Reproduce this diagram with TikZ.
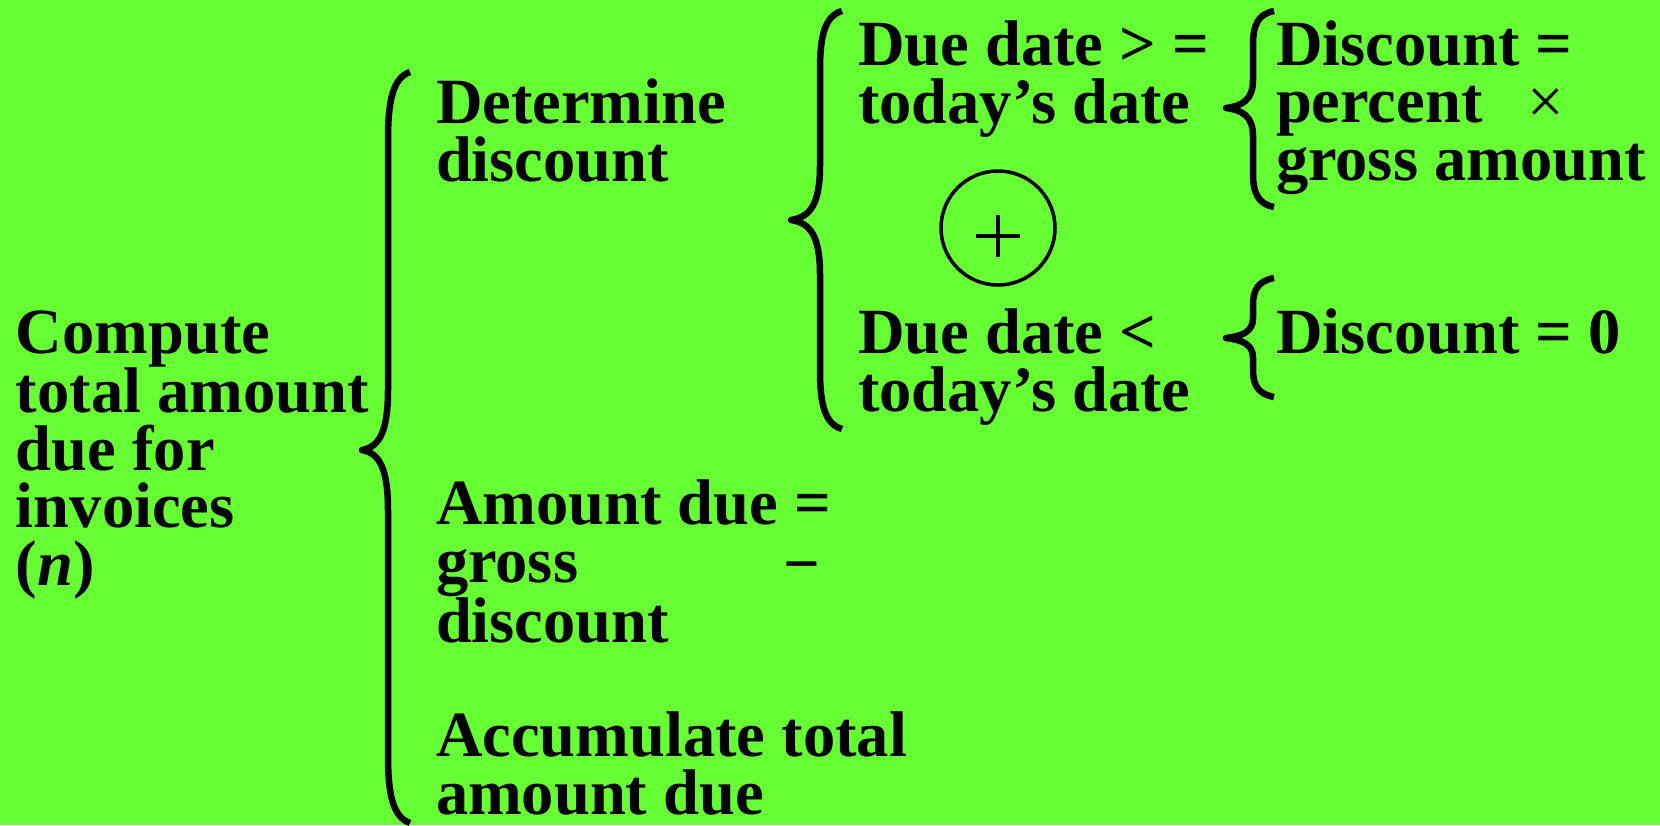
\documentclass[tikz,border=0pt]{standalone}
\usepackage{fontspec}
\setmainfont{Liberation Serif}
\definecolor{bg}{RGB}{102,255,51}
\begin{document}
\begin{tikzpicture}[x=1pt,y=-1pt,
  txt/.style={anchor=base west, inner sep=0pt, outer sep=0pt, align=left,
    font=\bfseries\fontsize{64.5}{57.5}\selectfont},
  bracel/.style={line width=6.5pt, line join=round},
  ring/.style={circle, draw, line width=3.5pt, minimum size=114pt, inner sep=0pt}]
\fill[bg] (0,0) rectangle (1660,825);
\useasboundingbox (0,0) rectangle (1660,825);

% texts (anchor = baseline of the last line)
\node[txt] (compute) at (16,585) {Compute\\total amount\\due for\\invoices\\(\textit{n})};
\node[txt] (determine) at (436,181) {Determine\\discount};
\node[txt] (duege) at (858,123) {Due date > =\\today’s date};
\node[txt] (duelt) at (858,411) {Due date <\\today’s date};
\node[txt] (discpct) at (1276,180) {Discount =\\percent\\gross amount};
\node[txt, font=\mdseries\fontsize{65}{57.5}\selectfont] (times) at (1527,123) {×};
\node[txt] (disc0) at (1276,353) {Discount = 0};
\node[txt] (amount) at (436,642) {Amount due =\\gross\\discount};
\node[txt] (minus) at (783,585) {−};
\node[txt] (accum) at (436,814) {Accumulate total\\amount due};

% circled plus
\node[ring] (plus) at (998,228) {};
\draw[line width=3.5pt] (plus.center) +(-22,8) -- +(22,8) +(0,-13) -- +(0,29);

% big brace
\draw[bracel] (410,72) .. controls (393,78) and (388,100) .. (388,140)
  -- (388,390) .. controls (388,430) and (380,447) .. (362,450)
  .. controls (380,453) and (388,470) .. (388,510)
  -- (388,755) .. controls (388,795) and (393,817) .. (410,823);

% middle brace
\draw[bracel] (842,11) .. controls (825,16) and (820,35) .. (820,70)
  -- (820,165) .. controls (820,205) and (810,217) .. (791,220)
  .. controls (810,223) and (820,235) .. (820,275)
  -- (820,370) .. controls (820,405) and (825,424) .. (842,429);

% upper right brace
\draw[bracel] (1274,11) .. controls (1258,14) and (1253,25) .. (1253,45)
  -- (1253,80) .. controls (1253,100) and (1242,106) .. (1226,108)
  .. controls (1242,110) and (1253,116) .. (1253,136)
  -- (1253,173) .. controls (1253,193) and (1258,204) .. (1274,207);

% lower right brace
\draw[bracel] (1274,278) .. controls (1258,281) and (1253,290) .. (1253,305)
  -- (1253,318) .. controls (1253,332) and (1242,336) .. (1226,338)
  .. controls (1242,340) and (1253,344) .. (1253,358)
  -- (1253,370) .. controls (1253,385) and (1258,394) .. (1274,397);
\end{tikzpicture}
\end{document}
